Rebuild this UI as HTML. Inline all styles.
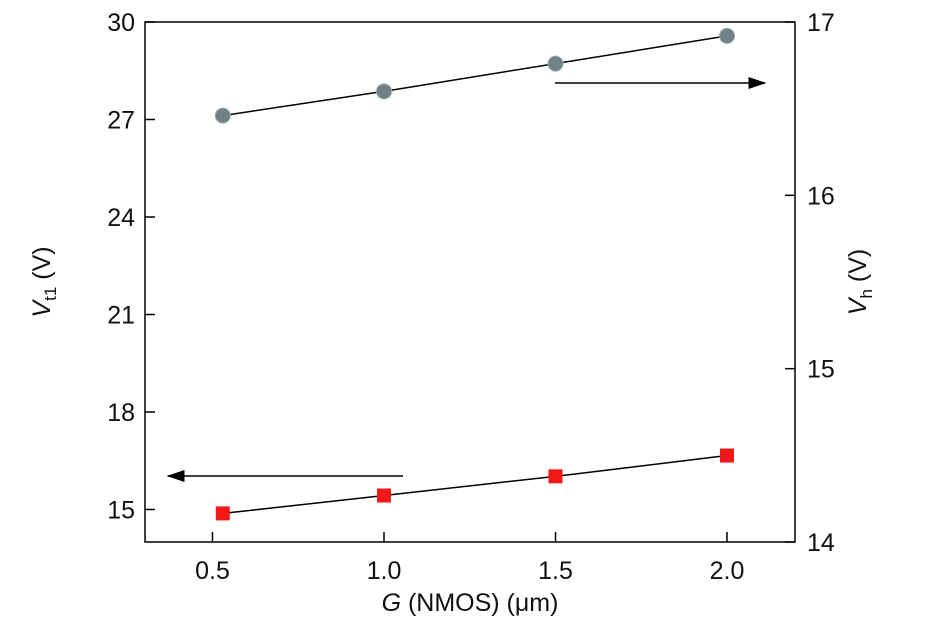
<!DOCTYPE html>
<html><head><meta charset="utf-8"><style>
body{margin:0;background:#fff}
svg text{font-family:"Liberation Sans",sans-serif;fill:#111}
</style></head><body>
<svg id="c" width="945" height="622" xmlns="http://www.w3.org/2000/svg">
<defs><marker id="ah" markerWidth="12" markerHeight="8" refX="11" refY="4" orient="auto"><path d="M0,0L12,4L0,8z" fill="#000"/></marker></defs>
</svg>
<script>
const xCats=[0.53,1.0,1.5,2.0];
const vt1=[14.88,15.43,16.02,16.66];
const vh=[16.46,16.60,16.76,16.92];
const xTicks=[0.5,1.0,1.5,2.0];
const xTickLabels=["0.5","1.0","1.5","2.0"];
const yLTicks=[15,18,21,24,27,30];
const yRTicks=[14,15,16,17];
const L=145,R=795,T=22,B=542;
const X=v=>384+(v-1)*343;
const YL=v=>T+(30-v)*(B-T)/16;
const YR=v=>T+(17-v)*(B-T)/3;
const s=document.getElementById('c');
function el(t,a,txt){const e=document.createElementNS('http://www.w3.org/2000/svg',t);for(const k in a)e.setAttribute(k,a[k]);if(txt!=null)e.textContent=txt;s.appendChild(e);return e;}
let f=el('rect',{x:L,y:T,width:R-L,height:B-T,fill:'none',stroke:'#000','stroke-width':1.5});


xTicks.forEach((v,i)=>{let t=el('line',{x1:X(v),x2:X(v),y1:B,y2:B-10,stroke:'#000','stroke-width':1.5});


let l=el('text',{x:X(v),y:B+37,'font-size':25,'text-anchor':'middle'},xTickLabels[i]);

});
yLTicks.forEach(v=>{let t=el('line',{x1:L,x2:L+10,y1:YL(v),y2:YL(v),stroke:'#000','stroke-width':1.5});


let l=el('text',{x:L-10,y:YL(v)+9,'font-size':25,'text-anchor':'end'},String(v));

});
yRTicks.forEach(v=>{let t=el('line',{x1:R,x2:R-10,y1:YR(v),y2:YR(v),stroke:'#000','stroke-width':1.5});


let l=el('text',{x:R+12,y:YR(v)+9,'font-size':25,'text-anchor':'start'},String(v));

});
let p1=el('polyline',{points:xCats.map((x,i)=>X(x)+','+YL(vt1[i])).join(' '),fill:'none',stroke:'#000','stroke-width':1.5});


let p2=el('polyline',{points:xCats.map((x,i)=>X(x)+','+YR(vh[i])).join(' '),fill:'none',stroke:'#000','stroke-width':1.5});


xCats.forEach((x,i)=>{let m=el('rect',{x:X(x)-7,y:YL(vt1[i])-7,width:14,height:14,fill:'#f01818'});


let c=el('circle',{cx:X(x),cy:YR(vh[i]),r:7.5,fill:'#6f8287',stroke:'#9aa8ab','stroke-width':1});

});
let a1=el('line',{x1:555,y1:83,x2:765,y2:83,stroke:'#000','stroke-width':1.5,'marker-end':'url(#ah)'});


let a2=el('line',{x1:403,y1:476,x2:168,y2:476,stroke:'#000','stroke-width':1.5,'marker-end':'url(#ah)'});


</script>
<svg style="position:absolute;left:0;top:0" width="945" height="622">
<text x="470" y="611" font-size="25" text-anchor="middle" font-family="Liberation Sans"><tspan font-style="italic">G</tspan> (NMOS) (μm)</text>
<text transform="translate(50,282) rotate(-90)" font-size="25" text-anchor="middle" font-family="Liberation Sans"><tspan font-style="italic">V</tspan><tspan font-size="17" dy="6">t1</tspan><tspan dy="-6"> (V)</tspan></text>
<text transform="translate(866,282) rotate(-90)" font-size="25" text-anchor="middle" font-family="Liberation Sans"><tspan font-style="italic">V</tspan><tspan font-size="17" dy="6">h</tspan><tspan dy="-6"> (V)</tspan></text>
</svg>
</body></html>
